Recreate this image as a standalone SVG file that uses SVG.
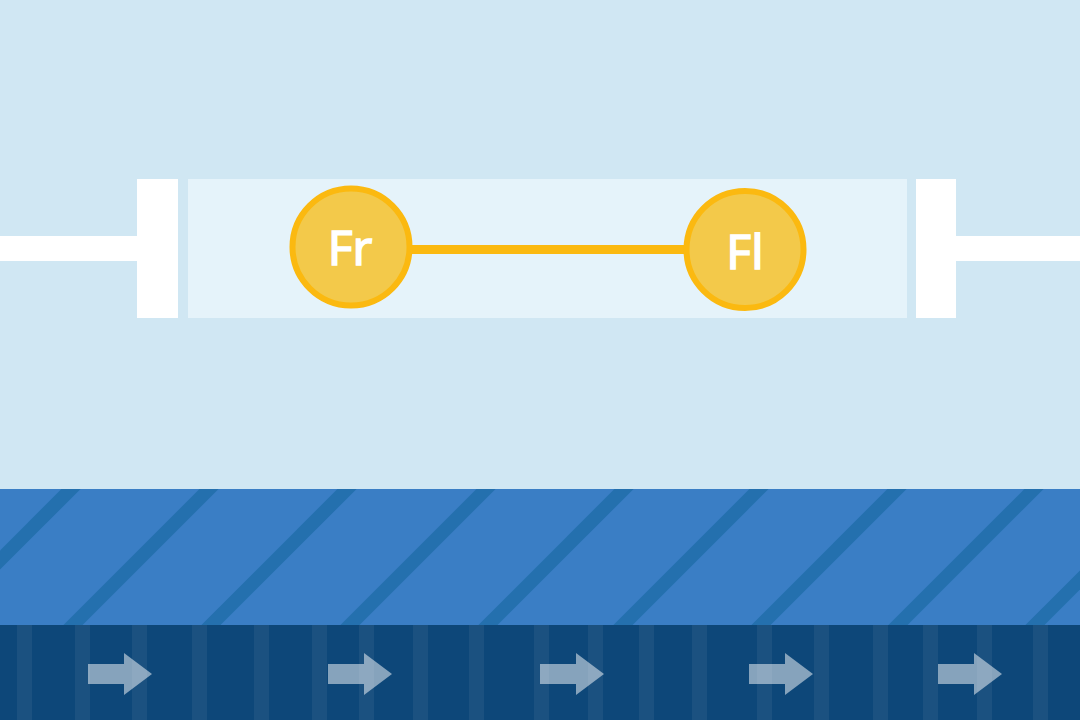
<svg xmlns="http://www.w3.org/2000/svg" width="1080" height="720" viewBox="0 0 1080 720">
  <style>
    .wall { fill: #FFFFFF; }
    .node circle { fill: #F3C94A; stroke: #FBB910; stroke-width: 6; }
    .node text { fill: #FFFFFF; stroke: #FFFFFF; stroke-width: 1.5; font-family: "Noto Sans", "DejaVu Sans", sans-serif; font-size: 48px; font-weight: 400; text-anchor: middle; }
    .diag { stroke: #2470AE; stroke-width: 13.5; }
    .vstripe { fill: #FFFFFF; fill-opacity: 0.06; }
    .arrow { fill: #FFFFFF; fill-opacity: 0.5; }
    .link { stroke: #FBB910; stroke-width: 9; fill: none; }
  </style>
  <defs>
    <path id="arr" d="M0,11 H36 V0 L64,21 L36,42 V31 H0 Z"/>
    <clipPath id="bandclip"><rect x="0" y="489" width="1080" height="136"/></clipPath>
  </defs>

  <g id="background">
    <rect x="0" y="0" width="1080" height="720" fill="#D0E7F3"/>
  </g>

  <g id="plates">
    <rect class="wall" x="0" y="236" width="137" height="25"/>
    <rect class="wall" x="137" y="179" width="41" height="139"/>
    <rect x="188" y="179" width="719" height="139" fill="#E5F3FA"/>
    <rect class="wall" x="916" y="179" width="40" height="139"/>
    <rect class="wall" x="956" y="236" width="124" height="25"/>
  </g>

  <g id="moving-plate">
    <rect x="0" y="489" width="1080" height="136" fill="#3A7EC5"/>
    <g clip-path="url(#bandclip)">
      <line class="diag" x1="81" y1="479" x2="-75" y2="635"/>
      <line class="diag" x1="219" y1="479" x2="63" y2="635"/>
      <line class="diag" x1="357" y1="479" x2="201" y2="635"/>
      <line class="diag" x1="496" y1="479" x2="340" y2="635"/>
      <line class="diag" x1="634" y1="479" x2="478" y2="635"/>
      <line class="diag" x1="769" y1="479" x2="613" y2="635"/>
      <line class="diag" x1="907" y1="479" x2="751" y2="635"/>
      <line class="diag" x1="1044" y1="479" x2="888" y2="635"/>
      <line class="diag" x1="1181" y1="479" x2="1025" y2="635"/>
    </g>
  </g>

  <g id="flow-band">
    <rect x="0" y="625" width="1080" height="95" fill="#0D4779"/>
    <rect class="vstripe" x="17" y="625" width="15" height="95"/>
    <rect class="vstripe" x="75" y="625" width="15" height="95"/>
    <rect class="vstripe" x="132" y="625" width="15" height="95"/>
    <rect class="vstripe" x="192" y="625" width="15" height="95"/>
    <rect class="vstripe" x="254" y="625" width="15" height="95"/>
    <rect class="vstripe" x="312" y="625" width="15" height="95"/>
    <rect class="vstripe" x="359" y="625" width="15" height="95"/>
    <rect class="vstripe" x="413" y="625" width="15" height="95"/>
    <rect class="vstripe" x="469" y="625" width="15" height="95"/>
    <rect class="vstripe" x="534" y="625" width="15" height="95"/>
    <rect class="vstripe" x="588" y="625" width="15" height="95"/>
    <rect class="vstripe" x="639" y="625" width="15" height="95"/>
    <rect class="vstripe" x="692" y="625" width="15" height="95"/>
    <rect class="vstripe" x="757" y="625" width="15" height="95"/>
    <rect class="vstripe" x="814" y="625" width="15" height="95"/>
    <rect class="vstripe" x="873" y="625" width="15" height="95"/>
    <rect class="vstripe" x="923" y="625" width="15" height="95"/>
    <rect class="vstripe" x="977" y="625" width="15" height="95"/>
    <rect class="vstripe" x="1033" y="625" width="15" height="95"/>
    <use class="arrow" href="#arr" x="88" y="653"/>
    <use class="arrow" href="#arr" x="328" y="653"/>
    <use class="arrow" href="#arr" x="540" y="653"/>
    <use class="arrow" href="#arr" x="749" y="653"/>
    <use class="arrow" href="#arr" x="938" y="653"/>
  </g>

  <g id="connectors">
    <line class="link" x1="410" y1="249.5" x2="686" y2="249.5"/>
  </g>

  <g id="node-Fr" class="node">
    <circle cx="351" cy="247" r="58.5"/>
    <text x="350" y="265">Fr</text>
  </g>

  <g id="node-Fl" class="node">
    <circle cx="745" cy="249.5" r="58.5"/>
    <text x="745" y="269">Fl</text>
  </g>
</svg>
